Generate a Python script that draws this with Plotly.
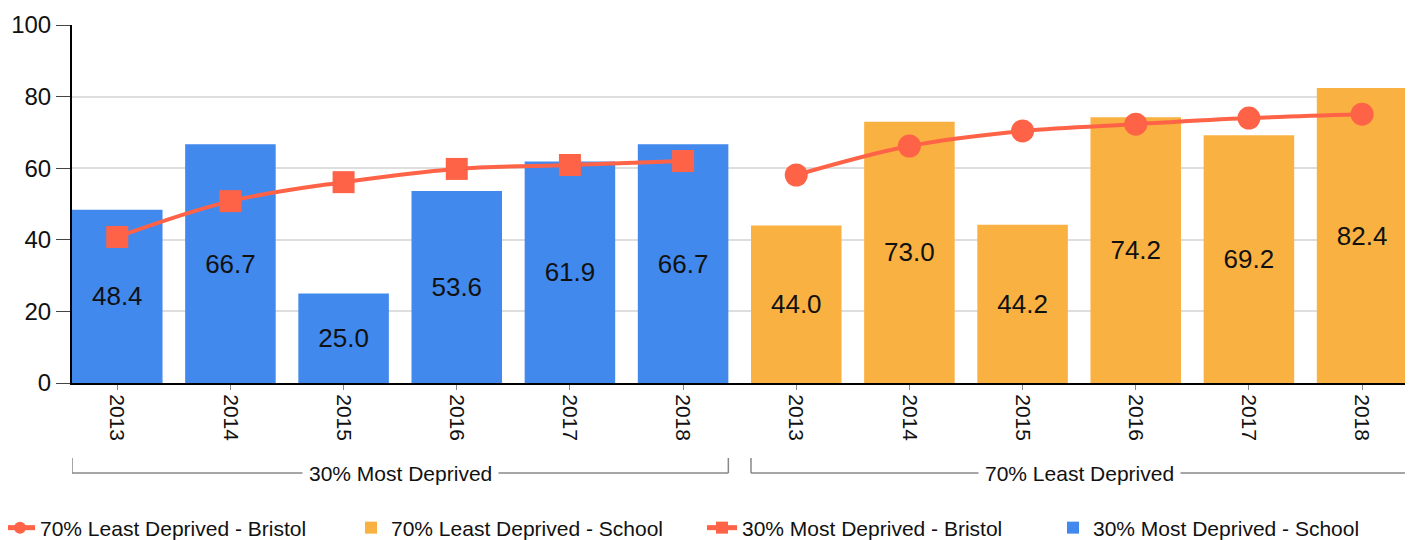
import plotly.graph_objects as go

# ---- data ----
years = ["2013", "2014", "2015", "2016", "2017", "2018"]
groups = ["30% Most Deprived", "70% Least Deprived"]
most_school = [48.4, 66.7, 25.0, 53.6, 61.9, 66.7]
least_school = [44.0, 73.0, 44.2, 74.2, 69.2, 82.4]
most_bristol = [40.8, 50.8, 56.1, 59.8, 60.9, 62.0]
least_bristol = [58.1, 66.2, 70.4, 72.3, 74.0, 75.1]

FONT = "Liberation Sans, Arial, sans-serif"
BLUE = "#4189ED"
ORANGE = "#F9B141"
LINE = "#FF6347"
BAR_W = 0.8

n = len(years)
x_most = list(range(n))
x_least = list(range(n, 2 * n))
tick_vals = x_most + x_least
tick_text = years + years

fig = go.Figure()

fig.add_trace(go.Bar(
    x=x_most, y=most_school, name="30% Most Deprived - School",
    marker=dict(color=BLUE, line=dict(width=0)), width=BAR_W,
    text=[f"{v:.1f}" for v in most_school], textposition="inside",
    insidetextanchor="middle", textangle=0,
    textfont=dict(size=26, color="#111111", family=FONT),
    legendrank=4, hoverinfo="skip",
))
fig.add_trace(go.Bar(
    x=x_least, y=least_school, name="70% Least Deprived - School",
    marker=dict(color=ORANGE, line=dict(width=0)), width=BAR_W,
    text=[f"{v:.1f}" for v in least_school], textposition="inside",
    insidetextanchor="middle", textangle=0,
    textfont=dict(size=26, color="#111111", family=FONT),
    legendrank=2, hoverinfo="skip",
))
fig.add_trace(go.Scatter(
    x=x_most, y=most_bristol, name="30% Most Deprived - Bristol",
    mode="lines+markers", line=dict(color=LINE, width=4, shape="spline"),
    marker=dict(symbol="square", size=22, color=LINE),
    legendrank=3, hoverinfo="skip",
))
fig.add_trace(go.Scatter(
    x=x_least, y=least_bristol, name="70% Least Deprived - Bristol",
    mode="lines+markers", line=dict(color=LINE, width=4, shape="spline"),
    marker=dict(symbol="circle", size=23, color=LINE),
    legendrank=1, hoverinfo="skip",
))

# group brackets below the tick labels
top_y = -0.2095
bot_y = -0.2514
for gi, g in enumerate(groups):
    x0 = gi * n - BAR_W / 2
    x1 = gi * n + n - 1 + BAR_W / 2
    for xx in (x0, x1):
        fig.add_shape(type="line", xref="x", yref="paper", x0=xx, x1=xx,
                      y0=top_y, y1=bot_y, line=dict(color="#888888", width=1.5))
    fig.add_shape(type="line", xref="x", yref="paper", x0=x0, x1=x1,
                  y0=bot_y, y1=bot_y, line=dict(color="#888888", width=1.5))
    fig.add_annotation(x=(x0 + x1) / 2, y=bot_y, xref="x", yref="paper",
                       xanchor="center", yanchor="middle",
                       text=g, showarrow=False, bgcolor="white",
                       borderpad=6,
                       font=dict(size=21, color="#111111", family=FONT))

# page body has an 8px margin, so the figure is 8px smaller and margins shifted
fig.update_layout(
    width=1405, height=532,
    margin=dict(l=64, r=0, t=17, b=157, autoexpand=False),
    paper_bgcolor="white", plot_bgcolor="white",
    font=dict(family=FONT, color="#111111"),
    bargap=0.2,
    showlegend=True,
    legend=dict(orientation="h", x=-0.0537, xanchor="left",
                y=-0.405, yanchor="middle",
                font=dict(size=21, color="#111111", family=FONT),
                entrywidth=306, entrywidthmode="pixels",
                traceorder="normal", itemsizing="constant"),
)
fig.update_yaxes(
    range=[0, 100], dtick=20, showgrid=True, gridcolor="#dedede", gridwidth=2,
    showline=True, linecolor="black", linewidth=2, ticks="outside",
    ticklen=14, tickcolor="#444444", tickwidth=1, automargin=False,
    tickfont=dict(size=24, color="#111111", family=FONT), zeroline=False,
    fixedrange=True,
)
fig.update_xaxes(
    range=[-0.4, 11.45], tickmode="array", tickvals=tick_vals, ticktext=tick_text,
    tickangle=90, showline=True, linecolor="black", linewidth=2,
    ticks="outside", ticklen=5, tickcolor="#888888", tickwidth=1,
    automargin=False,
    tickfont=dict(size=21, color="#111111", family=FONT), showgrid=False,
    zeroline=False, fixedrange=True,
)

fig.write_html("out.html")
